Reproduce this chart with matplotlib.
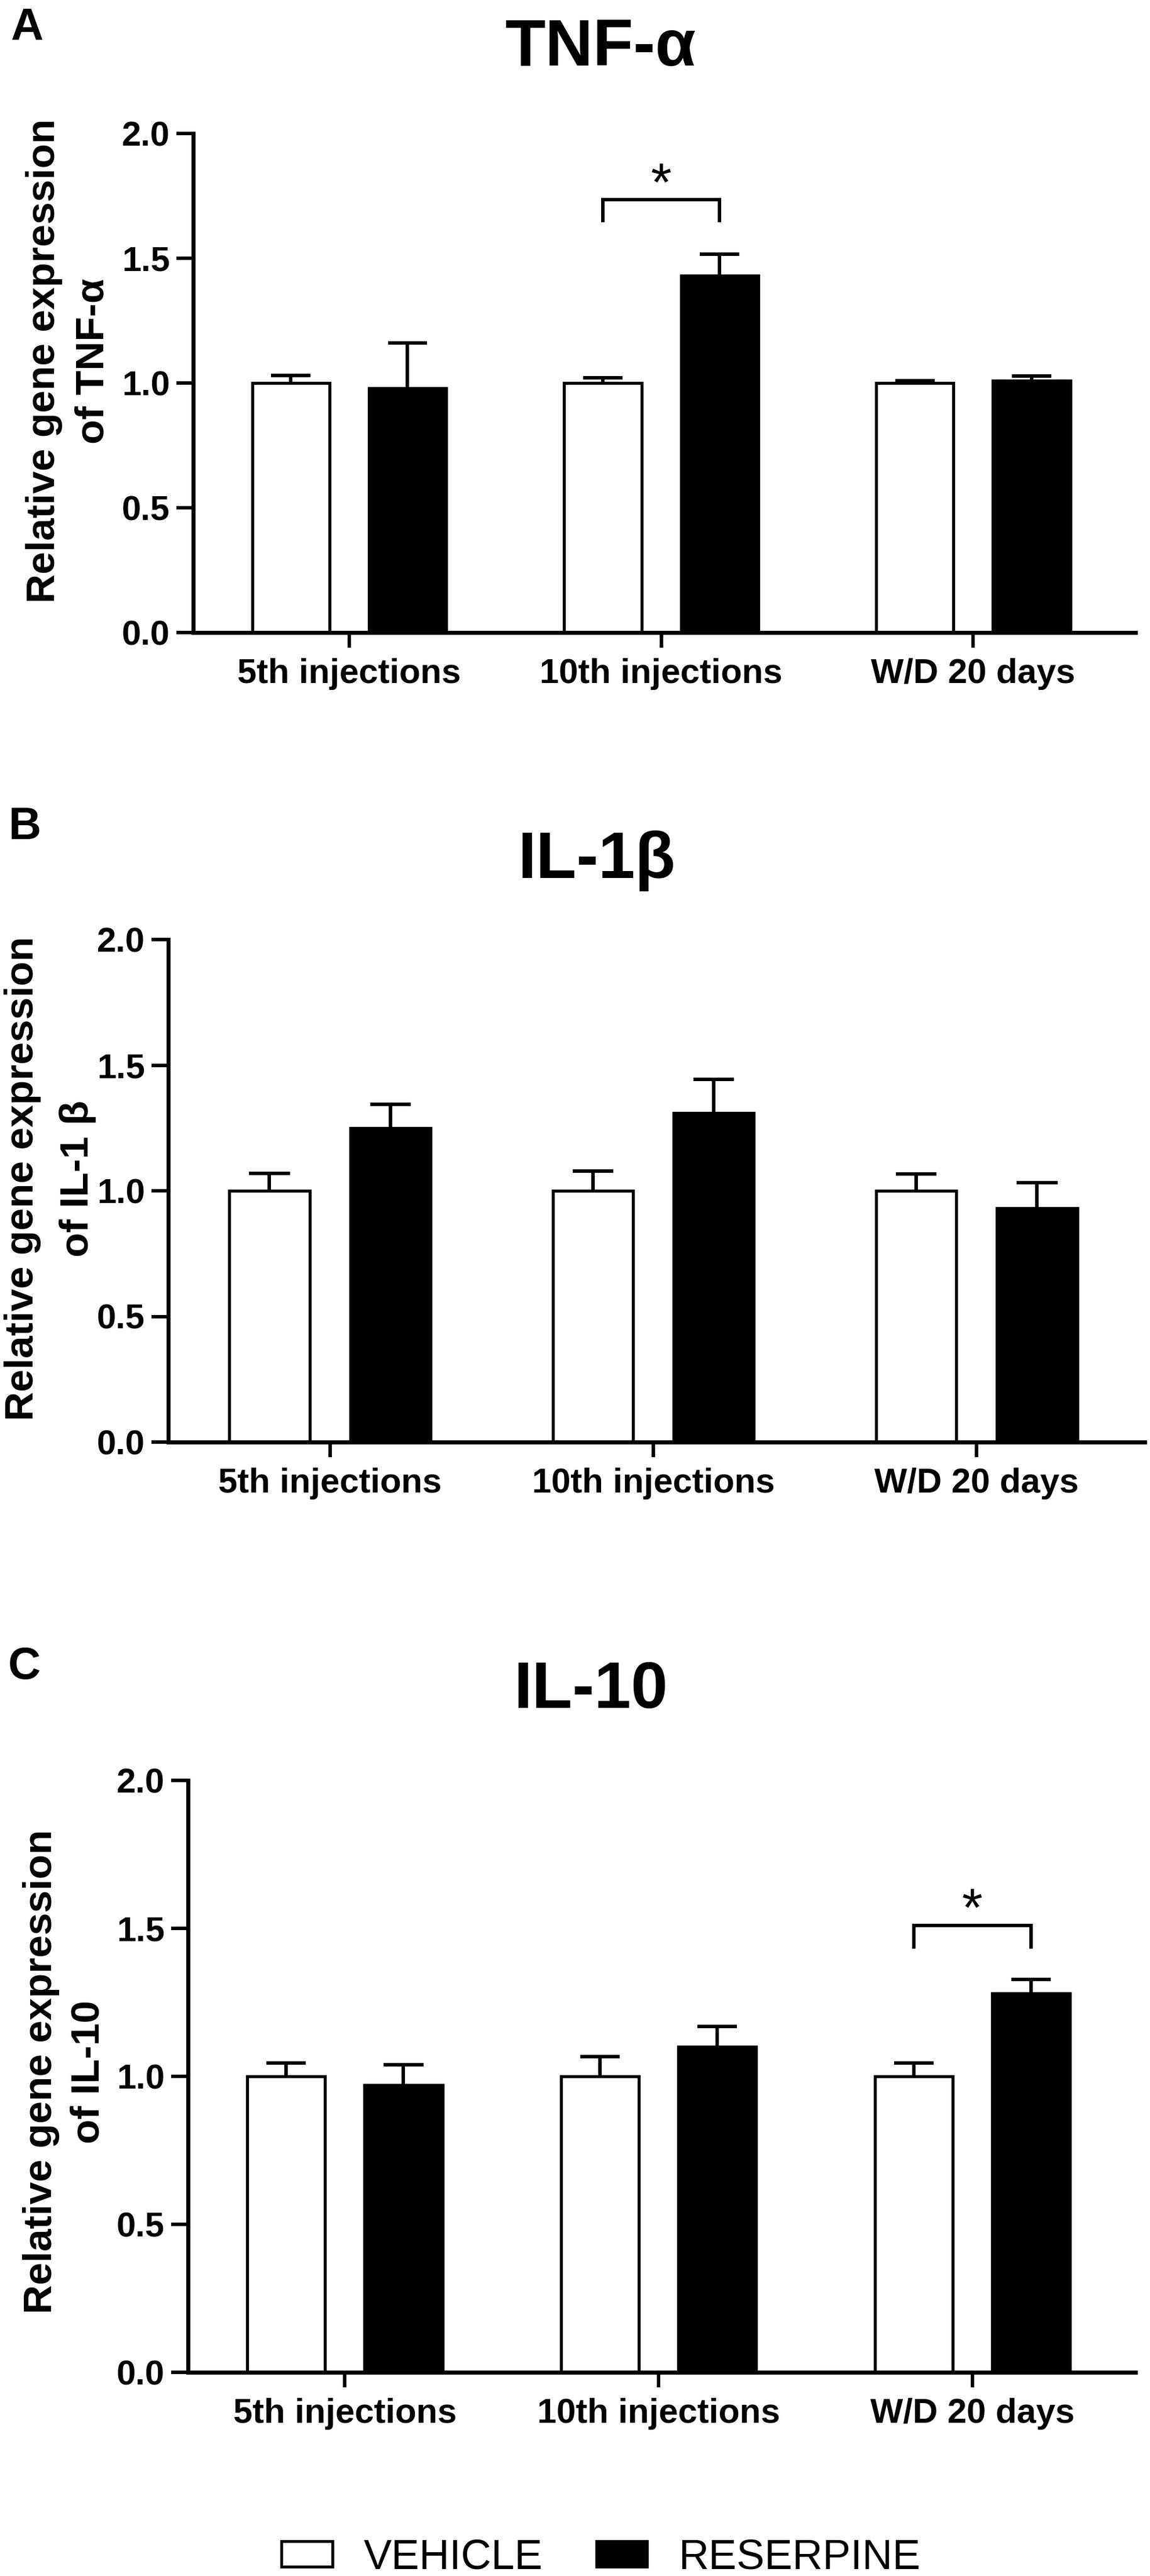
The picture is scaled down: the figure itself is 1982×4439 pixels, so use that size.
import matplotlib
matplotlib.use("Agg")
import matplotlib.pyplot as plt
from matplotlib.patches import Patch
import numpy as np

plt.rcParams['font.family'] = ['Liberation Sans', 'DejaVu Sans']

# ---------------- data ----------------
categories = ['5th injections', '10th injections', 'W/D 20 days']

tnf_vehicle = [1.00, 1.00, 1.00]
tnf_vehicle_err = [0.03, 0.02, 0.01]
tnf_reserpine = [0.98, 1.43, 1.01]
tnf_reserpine_err = [0.18, 0.086, 0.018]

il1b_vehicle = [1.00, 1.00, 1.00]
il1b_vehicle_err = [0.07, 0.078, 0.067]
il1b_reserpine = [1.25, 1.31, 0.93]
il1b_reserpine_err = [0.093, 0.133, 0.103]

il10_vehicle = [1.00, 1.00, 1.00]
il10_vehicle_err = [0.046, 0.067, 0.046]
il10_reserpine = [0.97, 1.10, 1.28]
il10_reserpine_err = [0.069, 0.068, 0.047]

yticks = [0.0, 0.5, 1.0, 1.5, 2.0]
ytick_labels = ['0.0', '0.5', '1.0', '1.5', '2.0']

titles = ['TNF-α', 'IL-1β', 'IL-10']
panel_letters = ['A', 'B', 'C']
ylabel_line1 = 'Relative gene expression'
ylabel_line2 = ['of TNF-α', 'of IL-1 β', 'of IL-10']
legend_labels = ['VEHICLE', 'RESERPINE']

# significance: (group index, bracket top, leg bottom, star centre)
sig_tnf = [(1, 1.735, 1.644, 1.856)]
sig_il1b = []
sig_il10 = [(2, 1.51, 1.431, 1.614)]

# ---------------- layout ----------------
W, H = 1983, 4439
fig = plt.figure(figsize=(W / 100, H / 100), dpi=100)

# pixel boxes: left, right, y(2.0), y(0.0)
boxes = [(333, 1957, 230, 1090), (290, 1973, 1619, 2485), (324, 1957, 3068, 4088)]
title_pos = [(1035, 113), (1028, 1513), (1018, 2943)]
letter_pos = [(18, 69), (15, 1446), (14, 2893)]
ylab_pos = [((94, 179), 622), ((57, 152), 2031), ((89, 171), 3570)]

panels = [
    (tnf_vehicle, tnf_vehicle_err, tnf_reserpine, tnf_reserpine_err, sig_tnf),
    (il1b_vehicle, il1b_vehicle_err, il1b_reserpine, il1b_reserpine_err, sig_il1b),
    (il10_vehicle, il10_vehicle_err, il10_reserpine, il10_reserpine_err, sig_il10),
]

bar_w = 0.248
off = 0.187
cap_half = 0.063
lw_edge = 3.8
lw_err = 4.3
lw_spine = 5.0

x = np.arange(len(categories))

for i, (veh, veh_e, res, res_e, sigs) in enumerate(panels):
    l, r, t, b = boxes[i]
    ax = fig.add_axes([l / W, (H - b) / H, (r - l) / W, (b - t) / H])
    ax.bar(x - off, veh, width=bar_w, facecolor='white', edgecolor='black',
           linewidth=lw_edge, zorder=2)
    ax.bar(x + off, res, width=bar_w, facecolor='black', edgecolor='black',
           linewidth=lw_edge, zorder=2)
    for xs, vals, errs in [(x - off, veh, veh_e), (x + off, res, res_e)]:
        vals = np.array(vals)
        tops = vals + np.array(errs)
        ax.vlines(xs, vals, tops, color='black', linewidth=lw_err, zorder=1.5)
        ax.hlines(tops, xs - cap_half, xs + cap_half, color='black',
                  linewidth=lw_err, zorder=3)
    for g, ytop, yleg, ystar in sigs:
        xl, xr = x[g] - off, x[g] + off
        ax.plot([xl, xl, xr, xr], [yleg, ytop, ytop, yleg], color='black',
                linewidth=lw_err, solid_joinstyle='miter', solid_capstyle='butt')
        ax.annotate('*', xy=(x[g], ystar), xytext=(0, -0.58 * 66),
                    textcoords='offset points', ha='center', va='baseline',
                    fontsize=66)
    ax.set_xlim(-0.5, 2.52)
    ax.set_ylim(0, 2.0)
    ax.set_yticks(yticks)
    ax.set_yticklabels(ytick_labels)
    ax.set_xticks(x)
    ax.set_xticklabels(categories)
    for s in ['top', 'right']:
        ax.spines[s].set_visible(False)
    for s in ['left', 'bottom']:
        ax.spines[s].set_linewidth(lw_spine)
    ax.tick_params(axis='y', direction='out', length=21, width=4.3, pad=8,
                   labelsize=43)
    ax.tick_params(axis='x', direction='out', length=19, width=4.3, pad=13,
                   labelsize=43)
    for lab in ax.get_xticklabels() + ax.get_yticklabels():
        lab.set_fontweight('bold')

    tx, ty = title_pos[i]
    fig.text(tx / W, (H - ty) / H, titles[i], ha='center', va='baseline',
             fontsize=82, fontweight='bold')
    lx, ly = letter_pos[i]
    fig.text(lx / W, (H - ly) / H, panel_letters[i], ha='left', va='baseline',
             fontsize=56, fontweight='bold')
    (b1, b2), yc = ylab_pos[i]
    fig.text(b1 / W, (H - yc) / H, ylabel_line1, rotation=90,
             rotation_mode='anchor', ha='center', va='baseline',
             fontsize=50, fontweight='bold')
    fig.text(b2 / W, (H - yc) / H, ylabel_line2[i], rotation=90,
             rotation_mode='anchor', ha='center', va='baseline',
             fontsize=50, fontweight='bold')

handles = [Patch(facecolor='white', edgecolor='black', linewidth=3.6),
           Patch(facecolor='black', edgecolor='black', linewidth=3.6)]
fig.legend(handles, legend_labels, ncol=2, loc='center',
           bbox_to_anchor=(1036 / W, (H - 4408) / H), frameon=False,
           fontsize=52, handlelength=1.21, handleheight=0.58,
           handletextpad=0.75, columnspacing=1.28, borderpad=0,
           borderaxespad=0)

fig.savefig('out.png', dpi=100)
